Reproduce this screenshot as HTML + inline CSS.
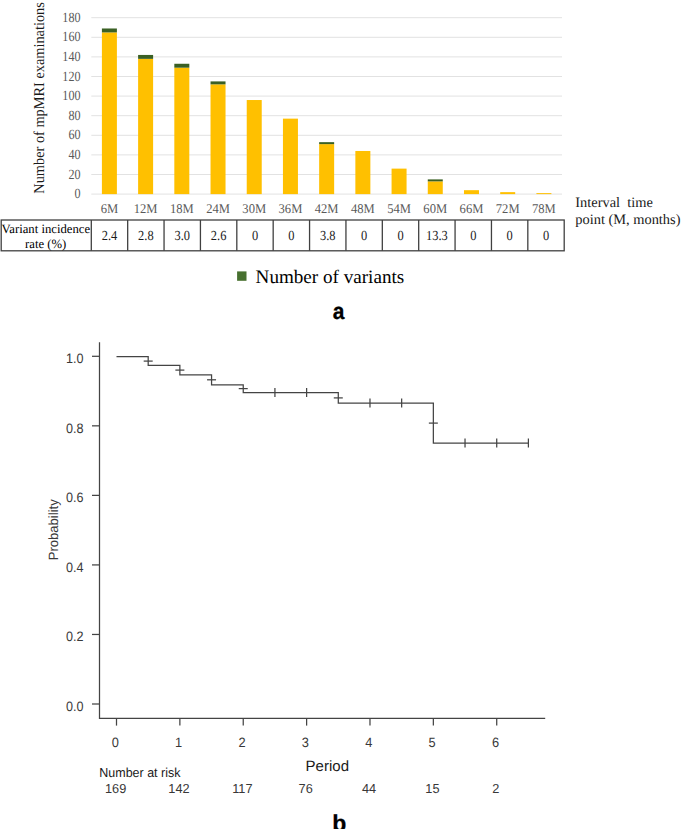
<!DOCTYPE html><html><head><meta charset="utf-8"><style>html,body{margin:0;padding:0;background:#fff;width:685px;height:829px;overflow:hidden}svg{display:block}text{text-rendering:geometricPrecision}.s{font-family:"Liberation Serif",serif}.a{font-family:"Liberation Sans",sans-serif}</style></head><body>
<svg width="685" height="829" viewBox="0 0 685 829">
<line x1="91.3" y1="194.10" x2="562.0" y2="194.10" stroke="#e2e2e2" stroke-width="1"/>
<text class="s" transform="translate(80.50,198.20) scale(0.86,1)" font-size="14.1" fill="#595959" text-anchor="end" >0</text>
<line x1="91.3" y1="174.50" x2="562.0" y2="174.50" stroke="#e2e2e2" stroke-width="1"/>
<text class="s" transform="translate(80.50,178.60) scale(0.86,1)" font-size="14.1" fill="#595959" text-anchor="end" >20</text>
<line x1="91.3" y1="154.90" x2="562.0" y2="154.90" stroke="#e2e2e2" stroke-width="1"/>
<text class="s" transform="translate(80.50,159.00) scale(0.86,1)" font-size="14.1" fill="#595959" text-anchor="end" >40</text>
<line x1="91.3" y1="135.30" x2="562.0" y2="135.30" stroke="#e2e2e2" stroke-width="1"/>
<text class="s" transform="translate(80.50,139.40) scale(0.86,1)" font-size="14.1" fill="#595959" text-anchor="end" >60</text>
<line x1="91.3" y1="115.70" x2="562.0" y2="115.70" stroke="#e2e2e2" stroke-width="1"/>
<text class="s" transform="translate(80.50,119.80) scale(0.86,1)" font-size="14.1" fill="#595959" text-anchor="end" >80</text>
<line x1="91.3" y1="96.10" x2="562.0" y2="96.10" stroke="#e2e2e2" stroke-width="1"/>
<text class="s" transform="translate(80.50,100.20) scale(0.86,1)" font-size="14.1" fill="#595959" text-anchor="end" >100</text>
<line x1="91.3" y1="76.50" x2="562.0" y2="76.50" stroke="#e2e2e2" stroke-width="1"/>
<text class="s" transform="translate(80.50,80.60) scale(0.86,1)" font-size="14.1" fill="#595959" text-anchor="end" >120</text>
<line x1="91.3" y1="56.90" x2="562.0" y2="56.90" stroke="#e2e2e2" stroke-width="1"/>
<text class="s" transform="translate(80.50,61.00) scale(0.86,1)" font-size="14.1" fill="#595959" text-anchor="end" >140</text>
<line x1="91.3" y1="37.30" x2="562.0" y2="37.30" stroke="#e2e2e2" stroke-width="1"/>
<text class="s" transform="translate(80.50,41.40) scale(0.86,1)" font-size="14.1" fill="#595959" text-anchor="end" >160</text>
<line x1="91.3" y1="17.70" x2="562.0" y2="17.70" stroke="#e2e2e2" stroke-width="1"/>
<text class="s" transform="translate(80.50,21.80) scale(0.86,1)" font-size="14.1" fill="#595959" text-anchor="end" >180</text>
<rect x="101.90" y="32.40" width="15" height="161.70" fill="#ffc000"/>
<rect x="101.90" y="28.48" width="15" height="3.92" fill="#3a6024"/>
<text class="s" transform="translate(109.40,213.00) scale(0.94,1)" font-size="13.4" fill="#595959" text-anchor="middle" >6M</text>
<rect x="138.11" y="58.86" width="15" height="135.24" fill="#ffc000"/>
<rect x="138.11" y="54.94" width="15" height="3.92" fill="#3a6024"/>
<text class="s" transform="translate(145.61,213.00) scale(0.94,1)" font-size="13.4" fill="#595959" text-anchor="middle" >12M</text>
<rect x="174.32" y="67.68" width="15" height="126.42" fill="#ffc000"/>
<rect x="174.32" y="63.76" width="15" height="3.92" fill="#3a6024"/>
<text class="s" transform="translate(181.82,213.00) scale(0.94,1)" font-size="13.4" fill="#595959" text-anchor="middle" >18M</text>
<rect x="210.53" y="84.34" width="15" height="109.76" fill="#ffc000"/>
<rect x="210.53" y="81.40" width="15" height="2.94" fill="#3a6024"/>
<text class="s" transform="translate(218.03,213.00) scale(0.94,1)" font-size="13.4" fill="#595959" text-anchor="middle" >24M</text>
<rect x="246.73" y="100.02" width="15" height="94.08" fill="#ffc000"/>
<text class="s" transform="translate(254.23,213.00) scale(0.94,1)" font-size="13.4" fill="#595959" text-anchor="middle" >30M</text>
<rect x="282.94" y="118.64" width="15" height="75.46" fill="#ffc000"/>
<text class="s" transform="translate(290.44,213.00) scale(0.94,1)" font-size="13.4" fill="#595959" text-anchor="middle" >36M</text>
<rect x="319.15" y="144.12" width="15" height="49.98" fill="#ffc000"/>
<rect x="319.15" y="142.16" width="15" height="1.96" fill="#3a6024"/>
<text class="s" transform="translate(326.65,213.00) scale(0.94,1)" font-size="13.4" fill="#595959" text-anchor="middle" >42M</text>
<rect x="355.36" y="150.98" width="15" height="43.12" fill="#ffc000"/>
<text class="s" transform="translate(362.86,213.00) scale(0.94,1)" font-size="13.4" fill="#595959" text-anchor="middle" >48M</text>
<rect x="391.57" y="168.62" width="15" height="25.48" fill="#ffc000"/>
<text class="s" transform="translate(399.07,213.00) scale(0.94,1)" font-size="13.4" fill="#595959" text-anchor="middle" >54M</text>
<rect x="427.77" y="181.36" width="15" height="12.74" fill="#ffc000"/>
<rect x="427.77" y="179.40" width="15" height="1.96" fill="#3a6024"/>
<text class="s" transform="translate(435.27,213.00) scale(0.94,1)" font-size="13.4" fill="#595959" text-anchor="middle" >60M</text>
<rect x="463.98" y="190.18" width="15" height="3.92" fill="#ffc000"/>
<text class="s" transform="translate(471.48,213.00) scale(0.94,1)" font-size="13.4" fill="#595959" text-anchor="middle" >66M</text>
<rect x="500.19" y="192.14" width="15" height="1.96" fill="#ffc000"/>
<text class="s" transform="translate(507.69,213.00) scale(0.94,1)" font-size="13.4" fill="#595959" text-anchor="middle" >72M</text>
<rect x="536.40" y="193.12" width="15" height="0.98" fill="#ffc000"/>
<text class="s" transform="translate(543.90,213.00) scale(0.94,1)" font-size="13.4" fill="#595959" text-anchor="middle" >78M</text>
<text class="s" transform="translate(44.2,97.9) rotate(-90)" font-size="15" fill="#1a1a1a" text-anchor="middle" textLength="191.5" lengthAdjust="spacingAndGlyphs">Number of mpMRI examinations</text>
<text class="s" transform="translate(575.30,206.70) scale(1.0,1)" font-size="14.4" fill="#1a1a1a" text-anchor="start" >Interval&#160; time</text>
<text class="s" transform="translate(575.30,223.70) scale(1.0,1)" font-size="14.4" fill="#1a1a1a" text-anchor="start" >point (M, months)</text>
<rect x="1.2" y="220.0" width="563.0" height="30.8" fill="none" stroke="#404040" stroke-width="1.3"/>
<line x1="91.30" y1="220.0" x2="91.30" y2="250.8" stroke="#404040" stroke-width="1.3"/>
<text class="s" transform="translate(109.49,240.40) scale(0.9,1)" font-size="13.8" fill="#1a1a1a" text-anchor="middle" >2.4</text>
<line x1="127.68" y1="220.0" x2="127.68" y2="250.8" stroke="#404040" stroke-width="1.3"/>
<text class="s" transform="translate(145.87,240.40) scale(0.9,1)" font-size="13.8" fill="#1a1a1a" text-anchor="middle" >2.8</text>
<line x1="164.05" y1="220.0" x2="164.05" y2="250.8" stroke="#404040" stroke-width="1.3"/>
<text class="s" transform="translate(182.24,240.40) scale(0.9,1)" font-size="13.8" fill="#1a1a1a" text-anchor="middle" >3.0</text>
<line x1="200.43" y1="220.0" x2="200.43" y2="250.8" stroke="#404040" stroke-width="1.3"/>
<text class="s" transform="translate(218.62,240.40) scale(0.9,1)" font-size="13.8" fill="#1a1a1a" text-anchor="middle" >2.6</text>
<line x1="236.81" y1="220.0" x2="236.81" y2="250.8" stroke="#404040" stroke-width="1.3"/>
<text class="s" transform="translate(255.00,240.40) scale(0.9,1)" font-size="13.8" fill="#1a1a1a" text-anchor="middle" >0</text>
<line x1="273.18" y1="220.0" x2="273.18" y2="250.8" stroke="#404040" stroke-width="1.3"/>
<text class="s" transform="translate(291.37,240.40) scale(0.9,1)" font-size="13.8" fill="#1a1a1a" text-anchor="middle" >0</text>
<line x1="309.56" y1="220.0" x2="309.56" y2="250.8" stroke="#404040" stroke-width="1.3"/>
<text class="s" transform="translate(327.75,240.40) scale(0.9,1)" font-size="13.8" fill="#1a1a1a" text-anchor="middle" >3.8</text>
<line x1="345.94" y1="220.0" x2="345.94" y2="250.8" stroke="#404040" stroke-width="1.3"/>
<text class="s" transform="translate(364.13,240.40) scale(0.9,1)" font-size="13.8" fill="#1a1a1a" text-anchor="middle" >0</text>
<line x1="382.32" y1="220.0" x2="382.32" y2="250.8" stroke="#404040" stroke-width="1.3"/>
<text class="s" transform="translate(400.50,240.40) scale(0.9,1)" font-size="13.8" fill="#1a1a1a" text-anchor="middle" >0</text>
<line x1="418.69" y1="220.0" x2="418.69" y2="250.8" stroke="#404040" stroke-width="1.3"/>
<text class="s" transform="translate(436.88,240.40) scale(0.9,1)" font-size="13.8" fill="#1a1a1a" text-anchor="middle" >13.3</text>
<line x1="455.07" y1="220.0" x2="455.07" y2="250.8" stroke="#404040" stroke-width="1.3"/>
<text class="s" transform="translate(473.26,240.40) scale(0.9,1)" font-size="13.8" fill="#1a1a1a" text-anchor="middle" >0</text>
<line x1="491.45" y1="220.0" x2="491.45" y2="250.8" stroke="#404040" stroke-width="1.3"/>
<text class="s" transform="translate(509.63,240.40) scale(0.9,1)" font-size="13.8" fill="#1a1a1a" text-anchor="middle" >0</text>
<line x1="527.82" y1="220.0" x2="527.82" y2="250.8" stroke="#404040" stroke-width="1.3"/>
<text class="s" transform="translate(546.01,240.40) scale(0.9,1)" font-size="13.8" fill="#1a1a1a" text-anchor="middle" >0</text>
<text class="s" transform="translate(45.80,232.70) scale(1.0,1)" font-size="12.7" fill="#000" text-anchor="middle" >Variant incidence</text>
<text class="s" transform="translate(45.70,247.90) scale(1.0,1)" font-size="12.7" fill="#000" text-anchor="middle" >rate (%)</text>
<rect x="237.1" y="271.4" width="9.4" height="9.4" fill="#47702f"/>
<text class="s" x="255.6" y="282.6" font-size="19" fill="#000" textLength="148.6" lengthAdjust="spacingAndGlyphs">Number of variants</text>
<text class="a" transform="translate(338.60,319.10) scale(0.92,1)" font-size="22.8" fill="#000" text-anchor="middle" font-weight="bold" stroke="#000" stroke-width="0.3">a</text>
<path d="M99.5 342.2 V718.3 H545.2" fill="none" stroke="#444444" stroke-width="1.25"/>
<line x1="92" y1="704.00" x2="99.5" y2="704.00" stroke="#444444" stroke-width="1.25"/>
<text class="a" transform="translate(83.50,710.70) scale(0.92,1)" font-size="13.7" fill="#383838" text-anchor="end" >0.0</text>
<line x1="92" y1="634.46" x2="99.5" y2="634.46" stroke="#444444" stroke-width="1.25"/>
<text class="a" transform="translate(83.50,641.16) scale(0.92,1)" font-size="13.7" fill="#383838" text-anchor="end" >0.2</text>
<line x1="92" y1="564.92" x2="99.5" y2="564.92" stroke="#444444" stroke-width="1.25"/>
<text class="a" transform="translate(83.50,571.62) scale(0.92,1)" font-size="13.7" fill="#383838" text-anchor="end" >0.4</text>
<line x1="92" y1="495.38" x2="99.5" y2="495.38" stroke="#444444" stroke-width="1.25"/>
<text class="a" transform="translate(83.50,502.08) scale(0.92,1)" font-size="13.7" fill="#383838" text-anchor="end" >0.6</text>
<line x1="92" y1="425.84" x2="99.5" y2="425.84" stroke="#444444" stroke-width="1.25"/>
<text class="a" transform="translate(83.50,432.54) scale(0.92,1)" font-size="13.7" fill="#383838" text-anchor="end" >0.8</text>
<line x1="92" y1="356.30" x2="99.5" y2="356.30" stroke="#444444" stroke-width="1.25"/>
<text class="a" transform="translate(83.50,363.00) scale(0.92,1)" font-size="13.7" fill="#383838" text-anchor="end" >1.0</text>
<line x1="116.50" y1="718.3" x2="116.50" y2="725.6" stroke="#444444" stroke-width="1.25"/>
<text class="a" transform="translate(115.30,746.60) scale(0.95,1)" font-size="13.5" fill="#383838" text-anchor="middle" >0</text>
<line x1="179.87" y1="718.3" x2="179.87" y2="725.6" stroke="#444444" stroke-width="1.25"/>
<text class="a" transform="translate(178.67,746.60) scale(0.95,1)" font-size="13.5" fill="#383838" text-anchor="middle" >1</text>
<line x1="243.24" y1="718.3" x2="243.24" y2="725.6" stroke="#444444" stroke-width="1.25"/>
<text class="a" transform="translate(242.04,746.60) scale(0.95,1)" font-size="13.5" fill="#383838" text-anchor="middle" >2</text>
<line x1="306.61" y1="718.3" x2="306.61" y2="725.6" stroke="#444444" stroke-width="1.25"/>
<text class="a" transform="translate(305.41,746.60) scale(0.95,1)" font-size="13.5" fill="#383838" text-anchor="middle" >3</text>
<line x1="369.98" y1="718.3" x2="369.98" y2="725.6" stroke="#444444" stroke-width="1.25"/>
<text class="a" transform="translate(368.78,746.60) scale(0.95,1)" font-size="13.5" fill="#383838" text-anchor="middle" >4</text>
<line x1="433.35" y1="718.3" x2="433.35" y2="725.6" stroke="#444444" stroke-width="1.25"/>
<text class="a" transform="translate(432.15,746.60) scale(0.95,1)" font-size="13.5" fill="#383838" text-anchor="middle" >5</text>
<line x1="496.72" y1="718.3" x2="496.72" y2="725.6" stroke="#444444" stroke-width="1.25"/>
<text class="a" transform="translate(495.52,746.60) scale(0.95,1)" font-size="13.5" fill="#383838" text-anchor="middle" >6</text>
<path d="M116.50 356.5 H148.19 V365.4 H179.87 V374.9 H211.56 V384.8 H243.24 V392.5 H338.29 V403.0 H433.35 V443.0 H528.40" fill="none" stroke="#444444" stroke-width="1.25"/>
<line x1="143.69" y1="361.10" x2="152.69" y2="361.10" stroke="#444444" stroke-width="1.25"/>
<line x1="175.37" y1="370.10" x2="184.37" y2="370.10" stroke="#444444" stroke-width="1.25"/>
<line x1="207.06" y1="379.80" x2="216.06" y2="379.80" stroke="#444444" stroke-width="1.25"/>
<line x1="238.74" y1="388.60" x2="247.74" y2="388.60" stroke="#444444" stroke-width="1.25"/>
<line x1="333.79" y1="397.90" x2="342.79" y2="397.90" stroke="#444444" stroke-width="1.25"/>
<line x1="428.85" y1="423.10" x2="437.85" y2="423.10" stroke="#444444" stroke-width="1.25"/>
<line x1="274.92" y1="388.00" x2="274.92" y2="397.00" stroke="#444444" stroke-width="1.25"/>
<line x1="306.61" y1="388.00" x2="306.61" y2="397.00" stroke="#444444" stroke-width="1.25"/>
<line x1="369.98" y1="398.50" x2="369.98" y2="407.50" stroke="#444444" stroke-width="1.25"/>
<line x1="401.66" y1="398.50" x2="401.66" y2="407.50" stroke="#444444" stroke-width="1.25"/>
<line x1="465.03" y1="438.50" x2="465.03" y2="447.50" stroke="#444444" stroke-width="1.25"/>
<line x1="496.72" y1="438.50" x2="496.72" y2="447.50" stroke="#444444" stroke-width="1.25"/>
<line x1="528.40" y1="438.50" x2="528.40" y2="447.50" stroke="#444444" stroke-width="1.25"/>
<text class="a" transform="translate(57.6,529.8) rotate(-90)" font-size="13.4" fill="#3a3a3a" text-anchor="middle" textLength="61" lengthAdjust="spacingAndGlyphs">Probability</text>
<text class="a" x="327.3" y="770.5" font-size="15" fill="#1a1a1a" text-anchor="middle">Period</text>
<text class="a" transform="translate(99.30,777.40) scale(0.96,1)" font-size="13" fill="#1a1a1a" text-anchor="start" >Number at risk</text>
<text class="a" transform="translate(115.60,793.00) scale(0.98,1)" font-size="13" fill="#383838" text-anchor="middle" >169</text>
<text class="a" transform="translate(178.97,793.00) scale(0.98,1)" font-size="13" fill="#383838" text-anchor="middle" >142</text>
<text class="a" transform="translate(242.34,793.00) scale(0.98,1)" font-size="13" fill="#383838" text-anchor="middle" >117</text>
<text class="a" transform="translate(305.71,793.00) scale(0.98,1)" font-size="13" fill="#383838" text-anchor="middle" >76</text>
<text class="a" transform="translate(369.08,793.00) scale(0.98,1)" font-size="13" fill="#383838" text-anchor="middle" >44</text>
<text class="a" transform="translate(432.45,793.00) scale(0.98,1)" font-size="13" fill="#383838" text-anchor="middle" >15</text>
<text class="a" transform="translate(495.82,793.00) scale(0.98,1)" font-size="13" fill="#383838" text-anchor="middle" >2</text>
<text class="a" x="339.4" y="830.8" font-size="23" font-weight="bold" fill="#000" stroke="#000" stroke-width="0.3" text-anchor="middle">b</text>
</svg></body></html>
